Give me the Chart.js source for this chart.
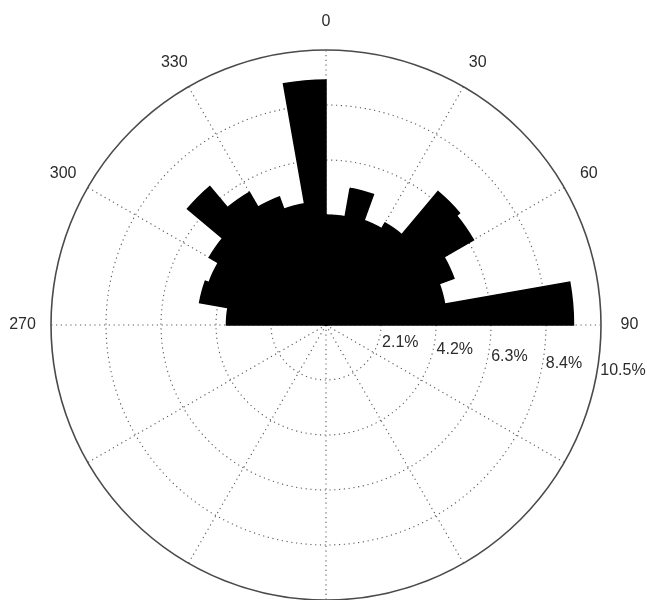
<!DOCTYPE html>
<html>
<head>
<meta charset="utf-8">
<script src="https://cdn.jsdelivr.net/npm/chart.js@4.4.1/dist/chart.umd.min.js"></script>
<style>
html,body{margin:0;padding:0;background:#fff;}
#wrap{width:647px;height:600px;position:relative;overflow:hidden;}
canvas{display:block;}
</style>
</head>
<body>
<div id="wrap"><canvas id="c" width="647" height="600"></canvas></div>
<script>
// Direction bins (10° each, clockwise from north)
const directionBins = ['0-10','10-20','20-30','30-40','40-50','50-60','60-70','70-80','80-90',
  '90-100','100-110','110-120','120-130','130-140','140-150','150-160','160-170','170-180',
  '180-190','190-200','200-210','210-220','220-230','230-240','240-250','250-260','260-270',
  '270-280','280-290','290-300','300-310','310-320','320-330','330-340','340-350','350-360'];

// Frequency (%) per bin
const frequencies = [4.2, 5.3, 4.25, 4.5, 6.65, 6.5, 5.2, 4.6, 9.45,
  0, 0, 0, 0, 0, 0, 0, 0, 0,
  0, 0, 0, 0, 0, 0, 0, 0, 0,
  3.8, 4.9, 4.75, 5.15, 6.9, 5.85, 5.2, 4.7, 9.35];

// Radial ticks and their labels
const ringTicks = [2.1, 4.2, 6.3, 8.4, 10.5];
const ringLabels = ['2.1%', '4.2%', '6.3%', '8.4%', '10.5%'];

// Angle labels (bin index where they sit, text)
const angleLabelIndex = [0, 3, 6, 9, 27, 30, 33];
const angleLabels = ['0', '30', '60', '90', '270', '300', '330'];

const FONT = '16px "Liberation Sans", Arial, sans-serif';
const TEXT = '#2b2b2b';

const labelPlugin = {
  id: 'roseLabels',
  afterDraw(chart) {
    const s = chart.scales.r;
    const ctx = chart.ctx;
    ctx.save();
    ctx.font = FONT;
    ctx.fillStyle = TEXT;
    // angle labels
    ctx.textAlign = 'center';
    ctx.textBaseline = 'middle';
    const rOut = s.getDistanceFromCenterForValue(s.max);
    angleLabelIndex.forEach((idx, k) => {
      const p = s.getPointPosition(idx, rOut * 1.1 + 1);
      ctx.fillText(angleLabels[k], p.x, p.y);
    });
    // ring labels
    ctx.textAlign = 'left';
    ctx.textBaseline = 'top';
    ringTicks.forEach((v, k) => {
      const d = s.getDistanceFromCenterForValue(v);
      const p = s.getPointPosition(9.72, d + 1.5);
      ctx.fillText(ringLabels[k], p.x, p.y + 3);
    });
    ctx.restore();
  }
};

new Chart(document.getElementById('c'), {
  type: 'polarArea',
  data: {
    labels: directionBins,
    datasets: [{
      data: frequencies,
      backgroundColor: '#000',
      borderColor: '#000',
      borderWidth: (c) => (c.raw > 0 ? 1.5 : 0),
      borderJoinStyle: 'miter'
    }]
  },
  options: {
    responsive: false,
    animation: false,
    devicePixelRatio: 1,
    layout: { padding: { top: 50, left: 51, right: 46, bottom: 0 } },
    plugins: { legend: { display: false }, tooltip: { enabled: false } },
    scales: {
      r: {
        min: 0,
        max: 10.5,
        startAngle: 0,
        ticks: { display: false, stepSize: 2.1 },
        pointLabels: { display: false },
        grid: {
          circular: true,
          color: (c) => (c.index === ringTicks.length ? '#4a4a4a' : '#5a5a5a'),
          lineWidth: (c) => (c.index === ringTicks.length ? 1.6 : 1.1)
        },
        border: {
          dash: (c) => (c.index === ringTicks.length ? [] : [1.2, 3.6])
        },
        angleLines: {
          display: true,
          color: '#5a5a5a',
          lineWidth: (c) => (c.index % 3 === 0 ? 1.1 : 0),
          borderDash: [1.2, 3.6]
        }
      }
    }
  },
  plugins: [labelPlugin]
});
</script>
</body>
</html>
